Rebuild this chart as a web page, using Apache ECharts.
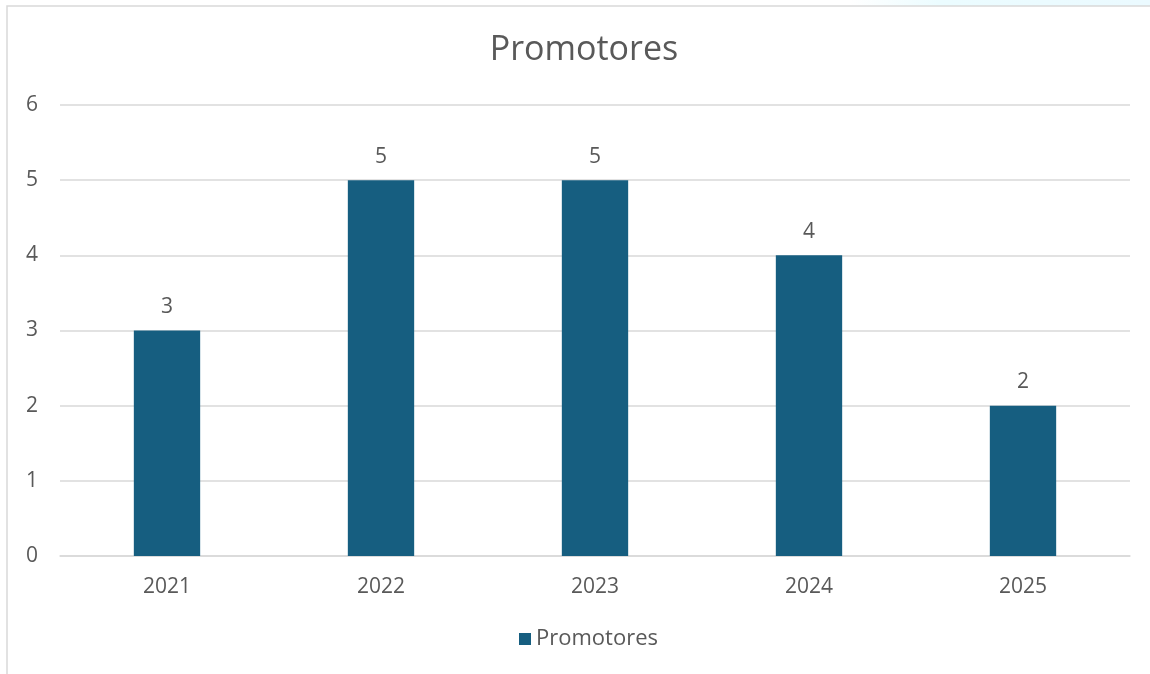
<!DOCTYPE html>
<html>
<head>
<meta charset="utf-8">
<script src="https://cdn.jsdelivr.net/npm/echarts@6/dist/echarts.min.js"></script>
<style>
html,body{margin:0;padding:0;background:#fff;}
#c{width:1150px;height:674px;}
</style>
</head>
<body>
<div id="c"></div>
<script>
const categories = ['2021', '2022', '2023', '2024', '2025'];
const promotores = [3, 5, 5, 4, 2];
const seriesName = 'Promotores';

const chart = echarts.init(document.getElementById('c'));
const font = '"Open Sans", "Liberation Sans", Arial, sans-serif';
chart.setOption({
  backgroundColor: '#ffffff',
  animation: false,
  graphic: [
    { type: 'rect', shape: { x: 850, y: 0, width: 300, height: 6 }, silent: true,
      style: { fill: new echarts.graphic.LinearGradient(0, 0, 1, 0, [
        { offset: 0, color: 'rgba(235,252,255,0)' },
        { offset: 0.3, color: 'rgba(235,252,255,1)' },
        { offset: 1, color: 'rgba(235,250,255,1)' }]) } },
    { type: 'rect', shape: { x: 7, y: 6, width: 1200, height: 720 }, silent: true,
      style: { fill: 'none', stroke: '#d9d9d9', lineWidth: 1.5 } }
  ],
  title: {
    text: 'Promotores',
    left: 579,
    textAlign: 'center',
    top: 28,
    textStyle: { fontFamily: font, fontSize: 34, fontWeight: 'normal', color: '#595959' }
  },
  legend: {
    bottom: 19,
    left: 514,
    itemWidth: 12,
    itemHeight: 12,
    itemGap: 6,
    icon: 'rect',
    textStyle: { fontFamily: font, fontSize: 22, color: '#595959' },
    data: [seriesName]
  },
  grid: { left: 60, right: 20, top: 105, bottom: 118 },
  xAxis: {
    type: 'category',
    data: categories,
    axisLine: { lineStyle: { color: '#d9d9d9', width: 1.5 } },
    axisTick: { show: false },
    axisLabel: { fontFamily: font, fontSize: 21, color: '#595959', margin: 21 }
  },
  yAxis: {
    type: 'value',
    min: 0, max: 6, interval: 1,
    axisLine: { show: false },
    axisTick: { show: false },
    splitLine: { lineStyle: { color: '#d9d9d9', width: 1.5 } },
    axisLabel: { fontFamily: font, fontSize: 21, color: '#595959', margin: 22 }
  },
  series: [{
    name: seriesName,
    type: 'bar',
    data: promotores,
    barWidth: '31%',
    itemStyle: { color: '#165E80' },
    label: {
      show: true, position: 'top', distance: 13,
      fontFamily: font, fontSize: 21, color: '#595959'
    }
  }]
});
</script>
</body>
</html>
